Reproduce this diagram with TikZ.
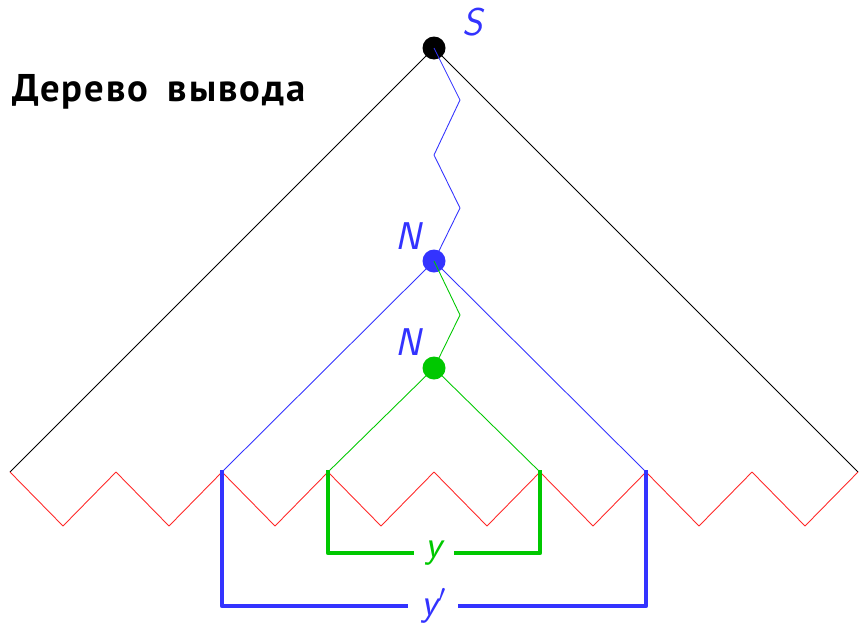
\documentclass[tikz,border=0pt]{standalone}
\usepackage{fontspec}
\newfontfamily\titlefont[LetterSpace=5]{PT Sans}
\usetikzlibrary{calc}

\begin{document}
\begin{tikzpicture}[x=0.02cm, y=-0.02cm, line join=round]

  % Colors
  \definecolor{rootcolor}{RGB}{0,0,0}
  \definecolor{outcolor}{RGB}{51,51,255} % blue N
  \definecolor{incolor}{RGB}{0,200,0} % green N
  \definecolor{leafcolor}{RGB}{255,40,40}

  \tikzset{
    vertex/.style={circle, inner sep=0pt, minimum size=0.46cm},
    sym/.style={font=\fontsize{22}{24}\selectfont\sffamily\itshape},
    branch/.style={line width=0.5pt},
    brace/.style={line width=2.6pt, line cap=rect},
  }

  \def\lx{10} % leftmost leaf
  \def\step{106} % distance between leaves
  \def\ly{472} % leaf level
  \def\dy{54} % depth of a zigzag tooth

  \useasboundingbox (0,0) rectangle (861,626);

  % vertices of the tree
  \node[vertex, fill=rootcolor] (s) at (434,48) {};
  \node[vertex, fill=outcolor] (n1) at (434,261) {};
  \node[vertex, fill=incolor] (n2) at (434,368) {};
  \node[sym, text=outcolor] (ls) at (473,22) {S};
  \node[sym, text=outcolor] (ln1) at (408,236) {N};
  \node[sym, text=outcolor] (ln2) at (408,342) {N};

  % leaves on the border of the tree
  \foreach \k in {0,...,8}
    \coordinate (leaf\k) at (\lx+\k*\step, \ly);

  % the whole tree
  \draw[branch, rootcolor] (leaf0) -- (s.center) -- (leaf8);
  % subtree of the upper N
  \draw[branch, outcolor] (leaf2) -- (n1.center) -- (leaf6);
  % subtree of the lower N
  \draw[branch, incolor] (leaf3) -- (n2.center) -- (leaf5);

  % paths down the tree
  \draw[branch, outcolor] (s.center) -- (460,100) -- (434,155) -- (460,208) -- (n1.center);
  \draw[branch, incolor] (n1.center) -- (460,315) -- (n2.center);

  % the word on the leaves
  \foreach \k [evaluate=\k as \j using int(\k+1)] in {0,...,7}
    \draw[branch, leafcolor] (leaf\k) -- ($(leaf\k)!0.5!(leaf\j)+(0,\dy)$) -- (leaf\j);

  % y and y'
  \node[sym, text=incolor] (y) at (434,553) {y};
  \node[sym, text=outcolor] (yp) at (434,606) {y$'$};
  \draw[brace, incolor] (leaf3) |- (y.west -| leaf3) -- ($(y.west)+(-8,0)$);
  \draw[brace, incolor] (leaf5) |- ($(y.east)+(8,0)$);
  \draw[brace, outcolor] (leaf2) |- ($(yp.west)+(-10,0)$);
  \draw[brace, outcolor] (leaf6) |- ($(yp.east)+(8,0)$);

  % title
  \node[anchor=west, font=\titlefont\bfseries\fontsize{22}{24}\selectfont] (title) at (6,92) {Дерево\hspace{0.5em}вывода};

\end{tikzpicture}
\end{document}
